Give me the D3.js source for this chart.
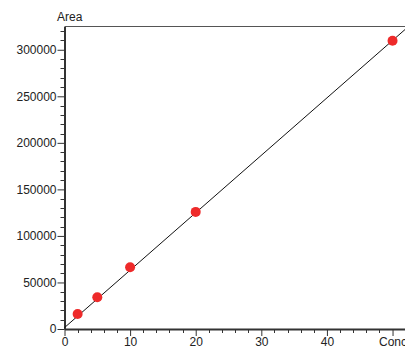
<!DOCTYPE html>
<html>
<head>
<meta charset="utf-8">
<script src="https://cdn.jsdelivr.net/npm/d3@7"></script>
<style>
  body { margin: 0; background: #fff; }
  svg { display: block; font-family: "Liberation Sans", Arial, sans-serif; }
</style>
</head>
<body>
<div id="chart"></div>
<script>
// calibration points
const conc = [2, 5, 10, 20, 50];
const area = [16100, 34200, 66300, 125800, 309700];
// fitted line
const fitSlope = 6170;
const fitIntercept = 1500;
const xTicks = [0, 10, 20, 30, 40, 50];
const xTickLabels = ["0", "10", "20", "30", "40", "Conc"];
const yTicks = [0, 50000, 100000, 150000, 200000, 250000, 300000];

const width = 405, height = 349;
const marginTop = 26.5, marginLeft = 64.5, marginBottom = 20;

const x = d3.scaleLinear().domain([0, 51.9]).range([marginLeft, width]);
const y = d3.scaleLinear().domain([0, 325000]).range([height - marginBottom, marginTop]);

const svg = d3.select("#chart").append("svg")
  .attr("width", width)
  .attr("height", height);

// top frame line
svg.append("line")
  .attr("x1", marginLeft).attr("x2", width)
  .attr("y1", marginTop).attr("y2", marginTop)
  .attr("stroke", "#555").attr("stroke-width", 1);

// minor ticks
const yMinor = d3.range(0, 325001, 10000).filter(v => v % 50000 !== 0);
svg.append("g")
  .attr("transform", `translate(${marginLeft},0)`)
  .selectAll("line").data(yMinor).join("line")
  .attr("x1", -4).attr("x2", 0)
  .attr("y1", d => Math.round(y(d)) + 0.5).attr("y2", d => Math.round(y(d)) + 0.5)
  .attr("stroke", "#333");

const xMinor = d3.range(0, 52, 2).filter(v => v % 10 !== 0);
svg.append("g")
  .attr("transform", `translate(0,${height - marginBottom})`)
  .selectAll("line").data(xMinor).join("line")
  .attr("x1", d => Math.round(x(d)) + 0.5).attr("x2", d => Math.round(x(d)) + 0.5)
  .attr("y1", 0).attr("y2", 4)
  .attr("stroke", "#333");

// y axis
svg.append("g")
  .attr("transform", `translate(${marginLeft},0)`)
  .call(d3.axisLeft(y).tickValues(yTicks).tickFormat(d3.format("d")).tickSize(7).tickSizeOuter(0).tickPadding(1))
  .call(g => g.select(".domain").attr("stroke", "#333").attr("stroke-width", 2))
  .call(g => g.selectAll(".tick line").attr("stroke", "#333"))
  .call(g => g.selectAll(".tick text").attr("font-size", 12).attr("fill", "#222").attr("font-family", "Liberation Sans, Arial, sans-serif"));

// x axis
svg.append("g")
  .attr("transform", `translate(0,${height - marginBottom})`)
  .call(d3.axisBottom(x).tickValues(xTicks).tickFormat((d, i) => xTickLabels[i]).tickSize(7).tickSizeOuter(0).tickPadding(1))
  .call(g => g.select(".domain").attr("stroke", "#333").attr("stroke-width", 2))
  .call(g => g.selectAll(".tick line").attr("stroke", "#333"))
  .call(g => g.selectAll(".tick text").attr("font-size", 12).attr("fill", "#222").attr("font-family", "Liberation Sans, Arial, sans-serif"));

// axis title
svg.append("text")
  .attr("x", 57).attr("y", 21)
  .attr("font-size", 12)
  .attr("fill", "#222")
  .text("Area");

// regression line
const x0 = 0, x1 = 51.9;
svg.append("line")
  .attr("x1", x(x0)).attr("y1", y(fitIntercept + fitSlope * x0))
  .attr("x2", x(x1)).attr("y2", y(fitIntercept + fitSlope * x1))
  .attr("stroke", "#111").attr("stroke-width", 1);

// points
svg.append("g")
  .selectAll("circle").data(conc).join("circle")
  .attr("cx", d => x(d))
  .attr("cy", (d, i) => y(area[i]))
  .attr("r", 5)
  .attr("fill", "#ee2a2a");
</script>
</body>
</html>
